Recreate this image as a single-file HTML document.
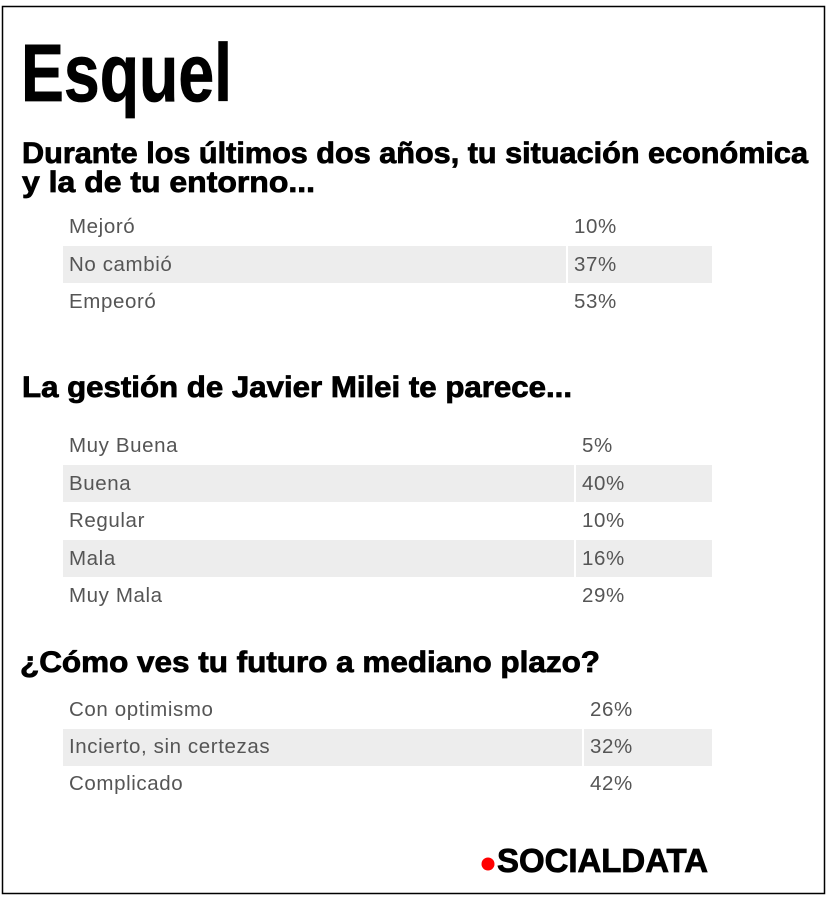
<!DOCTYPE html>
<html><head><meta charset="utf-8"><style>
html,body{margin:0;padding:0;background:#fff}
svg{display:block}
.h{font-family:"Liberation Sans",sans-serif;font-weight:bold;fill:#000;stroke:#000;stroke-width:0.8}
.r{font-family:"Liberation Sans",sans-serif;font-size:20.5px;letter-spacing:0.6px;fill:#555}
</style></head><body>
<svg width="827" height="899" viewBox="0 0 827 899" xmlns="http://www.w3.org/2000/svg">
<rect x="0" y="0" width="827" height="899" fill="#fff"/>
<rect x="2.5" y="6.5" width="822" height="887" fill="none" stroke="#000" stroke-width="1.5"/>
<text class="h" x="21" y="101" font-size="82" stroke-width="2.5" textLength="211" lengthAdjust="spacingAndGlyphs">Esquel</text>
<text class="h" x="22" y="163" font-size="30" textLength="786" lengthAdjust="spacingAndGlyphs">Durante los últimos dos años, tu situación económica</text>
<text class="h" x="22" y="192" font-size="30" textLength="293" lengthAdjust="spacingAndGlyphs">y la de tu entorno...</text>
<rect x="63" y="246" width="649" height="37" fill="#ededed"/>
<rect x="566" y="246" width="2" height="37" fill="#fff"/>
<text class="r" x="69" y="233">Mejoró</text><text class="r" x="574" y="233">10%</text>
<text class="r" x="69" y="271">No cambió</text><text class="r" x="574" y="271">37%</text>
<text class="r" x="69" y="308">Empeoró</text><text class="r" x="574" y="308">53%</text>

<text class="h" x="22" y="397" font-size="30" textLength="550" lengthAdjust="spacingAndGlyphs">La gestión de Javier Milei te parece...</text>
<rect x="63" y="465" width="649" height="37" fill="#ededed"/>
<rect x="574" y="465" width="2" height="37" fill="#fff"/>
<rect x="63" y="540" width="649" height="37" fill="#ededed"/>
<rect x="574" y="540" width="2" height="37" fill="#fff"/>
<text class="r" x="69" y="452">Muy Buena</text><text class="r" x="582" y="452">5%</text>
<text class="r" x="69" y="490">Buena</text><text class="r" x="582" y="490">40%</text>
<text class="r" x="69" y="527">Regular</text><text class="r" x="582" y="527">10%</text>
<text class="r" x="69" y="565">Mala</text><text class="r" x="582" y="565">16%</text>
<text class="r" x="69" y="602">Muy Mala</text><text class="r" x="582" y="602">29%</text>

<text class="h" x="20" y="672" font-size="30" textLength="580" lengthAdjust="spacingAndGlyphs">¿Cómo ves tu futuro a mediano plazo?</text>
<rect x="63" y="729" width="649" height="37" fill="#ededed"/>
<rect x="582" y="729" width="2" height="37" fill="#fff"/>
<text class="r" x="69" y="716">Con optimismo</text><text class="r" x="590" y="716">26%</text>
<text class="r" x="69" y="753">Incierto, sin certezas</text><text class="r" x="590" y="753">32%</text>
<text class="r" x="69" y="790">Complicado</text><text class="r" x="590" y="790">42%</text>

<circle cx="488" cy="864" r="6.5" fill="#f00"/>
<text class="h" x="497" y="872" font-size="33" textLength="211" lengthAdjust="spacingAndGlyphs">SOCIALDATA</text>
</svg>
</body></html>
